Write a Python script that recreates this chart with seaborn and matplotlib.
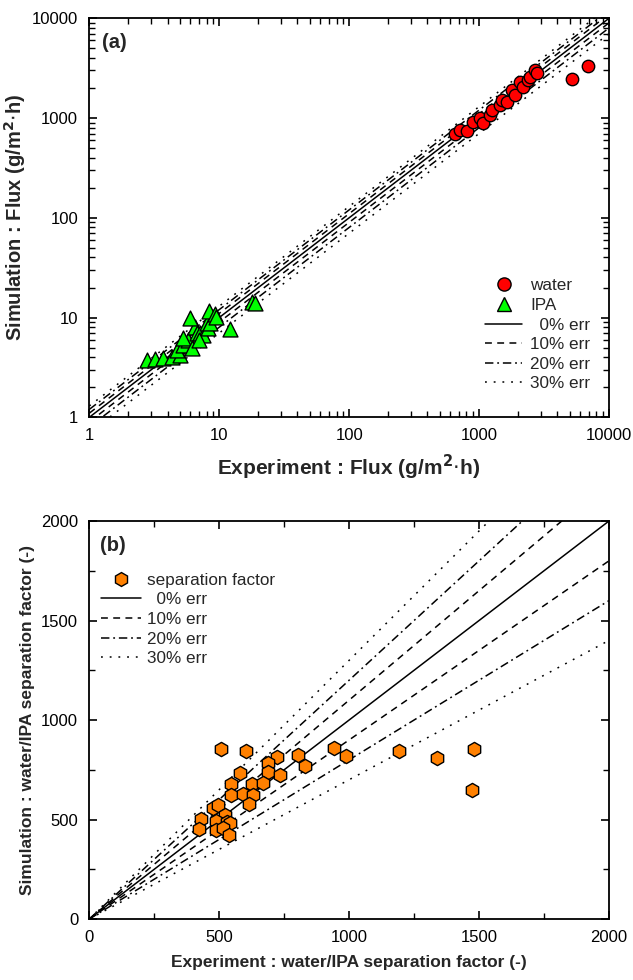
import numpy as np
import pandas as pd
import matplotlib
matplotlib.use("Agg")
import matplotlib.pyplot as plt
import seaborn as sns
from matplotlib.lines import Line2D
from matplotlib.ticker import LogLocator, NullFormatter, MultipleLocator

# ---------------- data ----------------
water_exp = [653, 713, 804, 904, 1018, 1080, 1216, 1250, 1452, 1496, 1634, 1785, 1893, 2070, 2194, 2399, 2473, 2700, 2780, 5170, 6870]
water_sim = [692, 759, 741, 919, 994, 886, 1073, 1205, 1352, 1517, 1460, 1910, 1702, 2313, 2061, 2404, 2600, 3033, 2811, 2445, 3350]

ipa_exp = [2.8, 3.2, 3.7, 4.3, 5.0, 4.7, 5.3, 5.8, 5.3, 6.5, 6.7, 7.1, 7.5, 8.0, 8.2, 8.5, 8.4, 9.3, 9.45, 5.96, 12.1, 17.8, 18.9, 6.2, 7.0]
ipa_sim = [3.75, 3.84, 3.9, 4.05, 4.2, 4.7, 5.3, 5.96, 6.2, 8.1, 6.95, 6.95, 6.7, 8.75, 7.8, 8.75, 11.5, 10.8, 10.2, 9.8, 7.7, 14.4, 13.9, 5.0, 6.0]

sep_exp = [508, 603, 721, 689, 803, 830, 943, 987, 580, 689, 734, 544, 625, 667, 544, 593, 631, 616,
           475, 496, 429, 522, 488, 529, 541, 423, 488, 513, 539, 1192, 1338, 1482, 1473]
sep_sim = [856, 842, 814, 786, 822, 768, 859, 819, 733, 738, 722, 677, 677, 683, 625, 630, 622, 576,
           558, 571, 501, 525, 491, 488, 480, 451, 446, 455, 421, 844, 811, 854, 647]

err_levels = [0.0, 0.1, 0.2, 0.3]
err_labels = ["  0% err", "10% err", "20% err", "30% err"]
err_styles = ["-", (0, (4.5, 3.5)), (0, (5.5, 2.5, 1.2, 2.5)), (0, (1.2, 4.5))]

flux_ticks = [1, 10, 100, 1000, 10000]
flux_ticklabels = ["1", "10", "100", "1000", "10000"]
sep_ticks = [0, 500, 1000, 1500, 2000]

# ---------------- style ----------------
sns.set_style("ticks")
plt.rcParams["font.family"] = ["Liberation Sans", "DejaVu Sans"]

fig = plt.figure(figsize=(6.33, 9.8), dpi=100)
ax1 = fig.add_axes([89.3 / 633, 1 - 417.3 / 980, (609 - 89.3) / 633, (417.3 - 18.3) / 980])
ax2 = fig.add_axes([89.3 / 633, 1 - 919 / 980, (609 - 89.3) / 633, (919 - 521) / 980])

red = "#FF0000"
green = "#00FF00"
orange = "#FF8000"
LW = 1.1


def draw_err_lines(ax, xs):
    for e, ls in zip(err_levels, err_styles):
        for sgn in ([1] if e == 0 else [1, -1]):
            ys = [x * (1 + sgn * e) for x in xs]
            sns.lineplot(x=xs, y=ys, ax=ax, color="black", lw=LW,
                         legend=False, estimator=None, sort=False)
            ax.lines[-1].set_linestyle(ls)


# ---------------- panel (a) ----------------
ax1.set_xscale("log")
ax1.set_yscale("log")
draw_err_lines(ax1, [1, 10000])
wdf = pd.DataFrame({"exp": water_exp, "sim": water_sim})
idf = pd.DataFrame({"exp": ipa_exp, "sim": ipa_sim})
sns.scatterplot(data=wdf, x="exp", y="sim", ax=ax1, marker="o", s=80, color=red,
                edgecolor="black", linewidth=1.0, zorder=5, legend=False)
sns.scatterplot(data=idf, x="exp", y="sim", ax=ax1, marker="^", s=115, color=green,
                edgecolor="black", linewidth=1.0, zorder=5, legend=False)
ax1.set_xlim(1, 10000)
ax1.set_ylim(1, 10000)
ax1.set_xticks(flux_ticks)
ax1.set_xticklabels(flux_ticklabels)
ax1.set_yticks(flux_ticks)
ax1.set_yticklabels(flux_ticklabels)
for axis in (ax1.xaxis, ax1.yaxis):
    axis.set_minor_locator(LogLocator(base=10, subs=np.arange(2, 10)))
    axis.set_minor_formatter(NullFormatter())
ax1.set_xlabel("Experiment : Flux (g/m$^{\\mathbf{2}}$$\\cdot$h)", fontsize=15, fontweight="bold", labelpad=7)
ax1.set_ylabel("Simulation : Flux (g/m$^{\\mathbf{2}}$$\\cdot$h)", fontsize=14.5, fontweight="bold")
ax1.yaxis.set_label_coords(-0.118, 0.5)
ax1.text(0.024, 0.962, "(a)", transform=ax1.transAxes, fontsize=14.5, fontweight="bold", va="top")

handles_a = [
    Line2D([], [], marker="o", color="none", markerfacecolor=red, markeredgecolor="black", markersize=9.5),
    Line2D([], [], marker="^", color="none", markerfacecolor=green, markeredgecolor="black", markersize=10.5),
] + [Line2D([], [], color="black", lw=LW, linestyle=ls) for ls in err_styles]
labels_a = ["water", "IPA"] + err_labels
ax1.legend(handles_a, labels_a, loc="lower right", bbox_to_anchor=(0.987, 0.035), frameon=False,
           fontsize=12.3, handlelength=2.2, handletextpad=0.45, labelspacing=0.27, borderaxespad=0.3)

# ---------------- panel (b) ----------------
draw_err_lines(ax2, [0, 2000])
sdf = pd.DataFrame({"exp": sep_exp, "sim": sep_sim})
sns.scatterplot(data=sdf, x="exp", y="sim", ax=ax2, marker="h", s=105, color=orange,
                edgecolor="black", linewidth=1.0, zorder=5, legend=False)
ax2.set_xlim(0, 2000)
ax2.set_ylim(0, 2000)
ax2.set_xticks(sep_ticks)
ax2.set_yticks(sep_ticks)
ax2.xaxis.set_minor_locator(MultipleLocator(250))
ax2.yaxis.set_minor_locator(MultipleLocator(250))
ax2.set_xlabel("Experiment : water/IPA separation factor (-)", fontsize=12.5, fontweight="bold", labelpad=7)
ax2.set_ylabel("Simulation : water/IPA separation factor (-)", fontsize=12.5, fontweight="bold")
ax2.yaxis.set_label_coords(-0.105, 0.5)
ax2.text(0.02, 0.962, "(b)", transform=ax2.transAxes, fontsize=14.5, fontweight="bold", va="top")

handles_b = [Line2D([], [], marker="h", color="none", markerfacecolor=orange, markeredgecolor="black", markersize=10)] + \
            [Line2D([], [], color="black", lw=LW, linestyle=ls) for ls in err_styles]
labels_b = ["separation factor"] + err_labels
ax2.legend(handles_b, labels_b, loc="upper left", bbox_to_anchor=(0.0, 0.90), frameon=False,
           fontsize=12.3, handlelength=2.35, handletextpad=0.3, labelspacing=0.27, borderaxespad=0.3)

for ax in (ax1, ax2):
    for sp in ax.spines.values():
        sp.set_visible(True)
        sp.set_linewidth(1.3)
        sp.set_color("black")
    ax.tick_params(which="both", direction="in", top=True, right=True, colors="black", labelsize=12)
    ax.tick_params(which="major", length=6, width=1.2, pad=8)
    ax.tick_params(which="minor", length=4, width=1.0)
    ax.set_facecolor("white")

fig.savefig("out.png", dpi=100, facecolor="white")
